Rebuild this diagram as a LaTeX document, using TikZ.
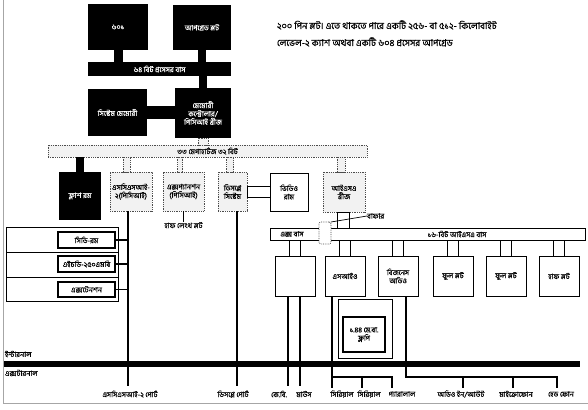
\documentclass[tikz,border=0pt]{standalone}
\usepackage{fontspec}
\setmainfont[Script=Bengali,FakeBold=0.6]{Hind Siliguri}
\usetikzlibrary{calc}
\newcommand\boxat[7]{\node[#1,anchor=north west,minimum width={(#5-#3)*1pt},minimum height={(#6-#4)*1pt}] (#2) at (#3,#4) {#7};}
\begin{document}
\begin{tikzpicture}[x=1pt,y=-1pt,
  every node/.style={inner sep=0pt,outer sep=0pt,align=center,font=\fontsize{7.3}{8.3}\selectfont},
  blk/.style={fill=black,text=white},
  dbox/.style={draw=black!70,densely dotted,line width=0.8pt,fill=gray!10},
  wbox/.style={draw,line width=0.9pt,fill=white},
  tbox/.style={draw,line width=1.6pt,fill=white},
  conn/.style={line width=1.2pt},
  tconn/.style={line width=1.8pt},
  lbl/.style={font=\fontsize{7.3}{8.3}\selectfont},
  note/.style={font=\fontsize{9.3}{10}\selectfont,anchor=west}]
\useasboundingbox (0,0) rectangle (588,409);
\fill[white] (0,0) rectangle (588,409);
% frame
\draw[gray!70,line width=1pt] (3,0) -- (3,403) -- (588,403);

% note
\node[note] (n1) at (277,25) {২০০ পিন স্লট। এতে থাকতে পারে একটি ২৫৬- বা ৫১২- কিলোবাইট};
\node[note] (n2) at (277,42) {লেভেল-২ ক্যাশ অথবা একটি ৬০৪ প্রসেসর আপগ্রেড};

% processor area
\boxat{blk}{cpu}{88}{4}{148}{50}{৬০১}
\boxat{blk}{up}{173}{5}{231}{50}{আপগ্রেড স্লট}
\boxat{blk}{bus64}{88}{62}{231}{76}{৬৪ বিট প্রসেসর বাস}
\boxat{blk}{sysmem}{88}{89}{147}{136}{সিস্টেম মেমোরী}
\boxat{blk}{mc}{175}{88}{231}{138}{মেমোরী\\কন্ট্রোলার/\\পিসিআই ব্রীজ}
\fill ($(cpu.south)+(-4,0)$) rectangle ($(bus64.north -| cpu.south)+(5,0)$);
\fill ($(up.south)+(-4,0)$) rectangle ($(bus64.north -| up.south)+(4,0)$);
\fill ($(bus64.south -| mc.north)+(-4,0)$) rectangle ($(mc.north)+(4,0)$);
\fill ($(sysmem.east)+(0,-6)$) rectangle ($(mc.west)+(0,6)$);

% PCI bus
\boxat{dbox}{pci}{48}{145}{367}{157}{৩৩ মেগাহার্টজ ৩২ বিট}
\draw[dbox] ($(mc.south)+(-5,0)$) rectangle ($(pci.north -| mc.south)+(5,0)$);

% PCI devices
\boxat{blk}{flash}{59}{172}{101}{220}{ফ্লাশ রম}
\boxat{dbox}{scsi}{110}{172}{152}{211}{এসসিএসআই-\\২(পিসিআই)}
\boxat{dbox}{exp}{163}{172}{204}{211}{এক্সপ্যানশন\\(পিসিআই)}
\boxat{dbox}{disp}{218}{172}{247}{211}{ডিসপ্লে\\সিস্টেম}
\boxat{wbox}{vram}{270}{173}{308}{211}{ভিডিও\\রাম}
\boxat{dbox}{isab}{323}{172}{365}{212}{আইএসএ\\ব্রীজ}
\fill ($(flash.north)+(-4,0)$) rectangle ($(pci.south -| flash.north)+(4,0)$);
\draw[dbox] ($(scsi.north)+(-8,0)$) rectangle ($(pci.south -| scsi.north)+(-1,0)$);
\draw[dbox] ($(exp.north)+(-6,0)$) rectangle ($(pci.south -| exp.north)+(-1,0)$);
\draw[dbox] ($(disp.north)+(-6,0)$) rectangle ($(pci.south -| disp.north)+(1,0)$);
\draw[dbox] ($(isab.north)+(-7,0)$) rectangle ($(pci.south -| isab.north)+(1,0)$);
\draw[line width=0.9pt] ($(disp.east)+(0,-5)$) rectangle ($(vram.west)+(0,5)$);

% ISA bus
\boxat{wbox}{isabus}{270}{228}{585}{240}{}
\draw[line width=0.9pt] ($(isab.south)+(-7,0)$) rectangle ($(isabus.north -| isab.south)+(5,0)$);
\node[lbl] (xbl) at (292,234) {এক্স বাস};
\node[lbl] (isal) at (457,234) {১৬-বিট আইএসএ বাস};
\boxat{dbox,fill=white,rounded corners=2pt}{buf}{319}{222}{331}{244}{}
\node[lbl,anchor=west] (bufl) at (367,216) {বাফার};
\draw[line width=0.7pt] (bufl.west) -- (buf.north east);

% ISA devices
\boxat{wbox}{e1}{275}{256}{315}{296}{}
\boxat{wbox}{sio}{325}{256}{365}{296}{এসআইও}
\boxat{wbox}{aud}{378}{256}{418}{296}{বিজনেস\\অডিও}
\boxat{wbox}{fs1}{433}{256}{473}{296}{ফুল স্লট}
\boxat{wbox}{fs2}{486}{256}{526}{296}{ফুল স্লট}
\boxat{wbox}{hs}{539}{256}{579}{296}{হাফ স্লট}
\foreach \b in {e1,sio,aud,fs1,fs2,hs}{
  \draw[line width=0.9pt] ($(\b.north)+(-6,0)$) rectangle ($(isabus.south -| \b.north)+(5,0)$);
}

% floppy
\boxat{wbox}{fdo}{338}{299}{392}{358}{}
\boxat{tbox}{fd}{343}{317}{385}{352}{১.৪৪ মে.বা.\\ফ্লপি}

% SCSI chain
\draw[line width=0.9pt] (6,227) rectangle (118,252);
\draw[line width=0.9pt] (6,252) rectangle (118,277);
\draw[line width=0.9pt] (6,277) rectangle (118,301);
\boxat{tbox}{cd}{58}{232}{115}{248}{সিডি-রম}
\boxat{tbox}{hd}{58}{256}{115}{272}{এইচডি-২৫০এমবি}
\boxat{tbox}{ext}{58}{282}{115}{297}{এক্সটেনশন}

% internal/external bus
\coordinate (ib1) at (4,364);
\coordinate (ib2) at (580,364);
\draw[line width=6pt] (ib1) -- (ib2);
\node[lbl,anchor=west] (intl) at (5,354) {ইন্টারনাল};
\node[lbl,anchor=west] (extl) at (5,373) {এক্সটারনাল};

% port lines
\coordinate (s1) at (128,386);
\coordinate (d1) at (237,386);
\coordinate (kb) at (288,386);
\coordinate (ms) at (300,386);
\coordinate (sioA) at (332,377);
\coordinate (sbus) at (392,377);
\coordinate (ser1) at (332,388);
\coordinate (ser2) at (362,388);
\coordinate (par) at (392,388);
\coordinate (abA) at (406,377);
\coordinate (abB) at (557,377);
\coordinate (ain) at (463,388);
\coordinate (mic) at (513,388);
\coordinate (hp) at (557,388);
\draw[conn] (scsi.south -| s1) -- (s1);
\foreach \b in {cd,hd,ext}{\draw[tconn] (\b.east) -- (\b.east -| s1);}
\draw[conn] (disp.south -| d1) -- (d1);
\node[lbl,anchor=north] (hll) at (183.5,222) {হাফ লেংথ স্লট};
\draw[conn] (exp.south) -- (hll.north);
\draw[conn] (e1.south -| kb) -- (kb);
\draw[conn] (e1.south -| ms) -- (ms);
\draw[conn] (sio.south -| ser1) -- (ser1);
\draw[conn] (sioA) -- (sbus) -- (par);
\draw[conn] (ser2 |- sioA) -- (ser2);
\draw[conn] (aud.south -| abA) -- (abA) -- (abB) -- (hp);
\draw[conn] (ain |- abA) -- (ain);
\draw[conn] (mic |- abA) -- (mic);

% bottom labels
\node[lbl] (l1) at (130,394) {এসসিএসআই-২ পোর্ট};
\node[lbl] (l2) at (233,394) {ডিসপ্লে পোর্ট};
\node[lbl] (l3) at (279,394) {কে.বি.};
\node[lbl] (l4) at (304,394) {মাউস};
\node[lbl] (l5) at (342,394) {সিরিয়াল};
\node[lbl] (l6) at (369,394) {সিরিয়াল};
\node[lbl] (l7) at (402,394) {প্যারালাল};
\node[lbl] (l8) at (461,394) {অডিও ইন/আউট};
\node[lbl] (l9) at (516,394) {মাইক্রোফোন};
\node[lbl] (l10) at (561,394) {হেড ফোন};
\end{tikzpicture}
\end{document}
